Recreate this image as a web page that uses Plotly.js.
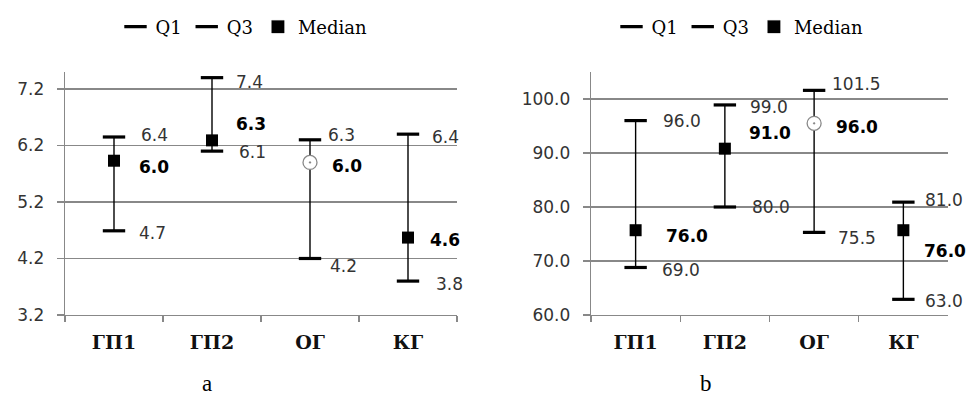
<!DOCTYPE html>
<html>
<head>
<meta charset="utf-8">
<script src="https://cdn.plot.ly/plotly-3.0.1.min.js"></script>
<style>html,body{margin:0;padding:0;background:#fff;}#chart{width:969px;height:407px;}</style>
</head>
<body>
<div id="chart"></div>
<script>
// ---------- data ----------
var categories = ['ГП1', 'ГП2', 'ОГ', 'КГ'];

// panel a
var q1A = [4.69, 6.10, 4.20, 3.80];
var q3A = [6.35, 7.40, 6.30, 6.40];
var medA = [5.93, 6.29, 5.90, 4.57];
var q1LabelsA = ['4.7', '6.1', '4.2', '3.8'];
var q3LabelsA = ['6.4', '7.4', '6.3', '6.4'];
var medLabelsA = ['6.0', '6.3', '6.0', '4.6'];

// panel b
var q1B = [68.8, 80.0, 75.3, 62.9];
var q3B = [96.0, 98.9, 101.6, 80.9];
var medB = [75.7, 90.8, 95.5, 75.7];
var q1LabelsB = ['69.0', '80.0', '75.5', '63.0'];
var q3LabelsB = ['96.0', '99.0', '101.5', '81.0'];
var medLabelsB = ['76.0', '91.0', '96.0', '76.0'];

// ---------- style (label offsets in px) ----------
var offA = {
  q3x: [25, 22, 16, 22], q3y: [2, -4, 5, -3],
  medx: [23, 22, 20, 20], medy: [-6, 16, -4, -2],
  q1x: [23, 25, 18, 26], q1y: [-2, -1, -8, -3]
};
var offB = {
  q3x: [25, 23, 16, 20], q3y: [0, -2, 6, 2],
  medx: [28, 22, 20, 19], medy: [-6, 16, -4, -21],
  q1x: [24, 25, 22, 20], q1y: [-3, 0, -6, -2]
};

var normalFont = {family: 'DejaVu Sans', size: 17, color: '#333'};
var boldFont = {family: 'DejaVu Sans', size: 17, color: '#000', weight: 'bold'};
var medSymbols = ['square', 'square', 'circle-dot', 'square'];
var medColors = ['#000', '#000', '#fff', '#000'];
var medLine = ['#000', '#000', '#888', '#000'];
var medLineW = [0, 0, 1.3, 0];
var medSize = [12, 12, 14, 12];

function buildTraces(q1, q3, med, xa, ya, leg) {
  var sx = [], sy = [];
  categories.forEach(function (c, i) { sx.push(c, c, null); sy.push(q1[i], q3[i], null); });
  return [
    {x: sx, y: sy, xaxis: xa, yaxis: ya, mode: 'lines', line: {color: '#000', width: 1.4},
     showlegend: false, hoverinfo: 'skip', legend: leg},
    {x: categories, y: q1, xaxis: xa, yaxis: ya, mode: 'markers', name: 'Q1', legend: leg,
     marker: {symbol: 'line-ew', size: 16, color: '#000', opacity: 1, line: {color: '#000', width: 3.2}}},
    {x: categories, y: q3, xaxis: xa, yaxis: ya, mode: 'markers', name: 'Q3', legend: leg,
     marker: {symbol: 'line-ew', size: 16, color: '#000', opacity: 1, line: {color: '#000', width: 3.2}}},
    {x: categories, y: med, xaxis: xa, yaxis: ya, mode: 'markers', name: 'Median', legend: leg,
     marker: {symbol: medSymbols, size: medSize, color: medColors, opacity: 1,
              line: {color: medLine, width: medLineW}}}
  ];
}

function buildLabels(vals, labels, xs, ys, font, xref, yref) {
  return categories.map(function (c, i) {
    return {x: c, y: vals[i], xref: xref, yref: yref, text: labels[i], showarrow: false,
            xanchor: 'left', yanchor: 'middle', xshift: xs[i], yshift: ys[i], font: font};
  });
}

var data = [].concat(
  buildTraces(q1A, q3A, medA, 'x', 'y', 'legend'),
  buildTraces(q1B, q3B, medB, 'x2', 'y2', 'legend2')
);

var annotations = [].concat(
  buildLabels(q3A, q3LabelsA, offA.q3x, offA.q3y, normalFont, 'x', 'y'),
  buildLabels(medA, medLabelsA, offA.medx, offA.medy, boldFont, 'x', 'y'),
  buildLabels(q1A, q1LabelsA, offA.q1x, offA.q1y, normalFont, 'x', 'y'),
  buildLabels(q3B, q3LabelsB, offB.q3x, offB.q3y, normalFont, 'x2', 'y2'),
  buildLabels(medB, medLabelsB, offB.medx, offB.medy, boldFont, 'x2', 'y2'),
  buildLabels(q1B, q1LabelsB, offB.q1x, offB.q1y, normalFont, 'x2', 'y2'),
  [
    {x: 200 / 969, y: 1 - 398 / 407, xref: 'paper', yref: 'paper', text: 'a', showarrow: false,
     font: {family: 'Liberation Serif', size: 23, color: '#000'}},
    {x: 714 / 969, y: 1 - 398 / 407, xref: 'paper', yref: 'paper', text: 'b', showarrow: false,
     font: {family: 'Liberation Serif', size: 23, color: '#000'}}
  ]
);

function xAxis(domain, anchor) {
  return {
    type: 'category', categoryorder: 'array', categoryarray: categories, domain: domain, anchor: anchor,
    range: [-0.5, 3.5], showline: true, linecolor: '#888', linewidth: 1.3,
    ticks: 'outside', ticklen: 6, tickcolor: '#888', tickwidth: 1.3, tickson: 'boundaries',
    showgrid: false, zeroline: false, ticklabelstandoff: 10,
    tickfont: {family: 'DejaVu Serif', size: 19, color: '#111', weight: 'bold'}
  };
}
function yAxis(domain, anchor, range, tick0, dtick) {
  return {
    domain: domain, anchor: anchor, range: range, tick0: tick0, dtick: dtick, tickmode: 'linear',
    tickformat: '.1f', showgrid: true, gridcolor: '#888', gridwidth: 1.3,
    showline: true, linecolor: '#888', linewidth: 1.3, zeroline: false,
    ticks: 'outside', ticklen: 7, tickcolor: '#888', tickwidth: 1.3, ticklabelstandoff: 9,
    tickfont: {family: 'DejaVu Sans', size: 17, color: '#333'}
  };
}

var yDom = [1 - 315 / 407, 1 - 72 / 407];
var legendFont = {family: 'DejaVu Serif', size: 18, color: '#000'};

var layout = {
  width: 969, height: 407,
  margin: {l: 0, r: 0, t: 0, b: 0},
  paper_bgcolor: '#fff', plot_bgcolor: '#fff',
  xaxis: xAxis([65 / 969, 457 / 969], 'y'),
  yaxis: yAxis(yDom, 'x', [3.2, 7.5], 3.2, 1),
  xaxis2: xAxis([591 / 969, 948 / 969], 'y2'),
  yaxis2: yAxis(yDom, 'x2', [60, 105], 60, 10),
  legend: {orientation: 'h', x: 244 / 969, xanchor: 'center', y: 1 - 27 / 407, yanchor: 'middle',
           font: legendFont, itemwidth: 30, tracegroupgap: 0, bgcolor: 'rgba(0,0,0,0)'},
  legend2: {orientation: 'h', x: 740 / 969, xanchor: 'center', y: 1 - 27 / 407, yanchor: 'middle',
            font: legendFont, itemwidth: 30, tracegroupgap: 0, bgcolor: 'rgba(0,0,0,0)'},
  annotations: annotations,
  showlegend: true,
  hovermode: false
};

Plotly.newPlot('chart', data, layout, {displayModeBar: false, staticPlot: true});
</script>
</body>
</html>
